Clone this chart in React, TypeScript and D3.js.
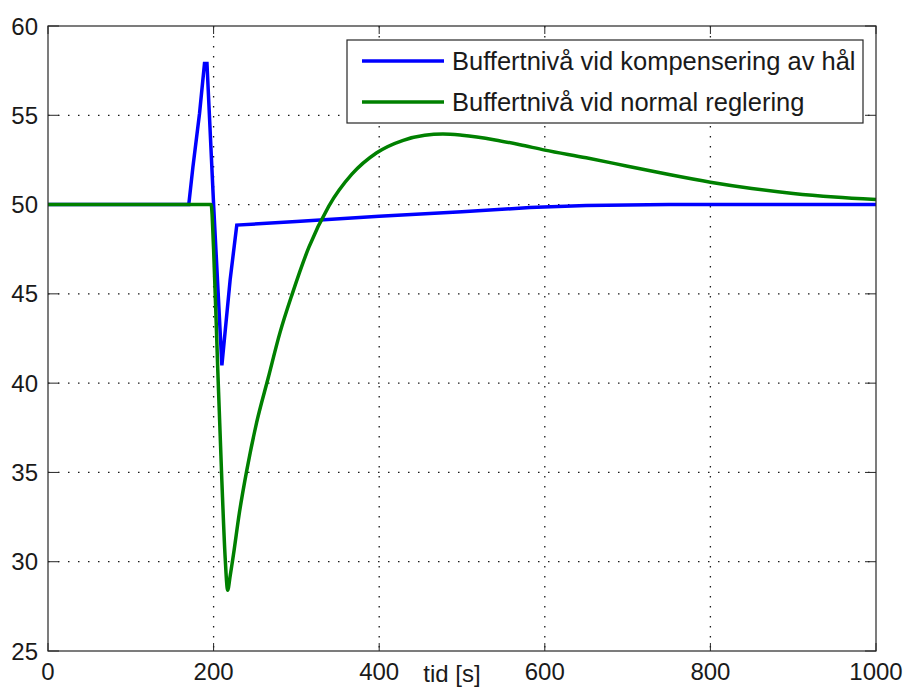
import React from "react";
import * as d3 from "d3";

const xTicks = [0, 200, 400, 600, 800, 1000];
const yTicks = [25, 30, 35, 40, 45, 50, 55, 60];

const seriesNames = [
  "Buffertnivå vid kompensering av hål",
  "Buffertnivå vid normal reglering",
];
const seriesColors = ["#0000ff", "#008000"];

// Blue: buffer level with hole compensation
const blueT = [0, 170, 175, 183, 189, 192, 200, 210, 220, 228, 300, 400, 500, 582, 650, 750, 1000];
const blueV = [50, 50, 52.1, 55.1, 57.9, 57.9, 50, 41, 45.8, 48.85, 49.05, 49.35, 49.6, 49.83, 49.95, 50, 50];

// Green: buffer level with normal regulation
const greenT = [0, 197, 200, 205, 210, 214, 217, 220, 224, 231, 240, 252, 266, 280, 295, 315, 339, 367, 397, 429, 455, 477, 500, 540, 570, 600, 650, 700, 750, 800, 850, 900, 950, 1000];
const greenV = [50, 50, 47.5, 40.8, 34.5, 30.2, 28.4, 29.2, 30.4, 32.7, 35.1, 37.8, 40.3, 42.8, 45, 47.6, 49.9, 51.7, 52.9, 53.6, 53.88, 53.95, 53.88, 53.62, 53.35, 53.05, 52.62, 52.15, 51.68, 51.25, 50.9, 50.62, 50.42, 50.28];

const xLabel = "tid [s]";

export default function App() {
  const W = 906, H = 693;
  const L = 48, R = 876, T = 26, B = 651;
  const x = d3.scaleLinear().domain([0, 1000]).range([L, R]);
  const y = d3.scaleLinear().domain([25, 60]).range([B, T]);
  const font = "'Liberation Sans', Arial, sans-serif";

  const blueData = blueT.map((t, i) => [t, blueV[i]] as [number, number]);
  const greenData = greenT.map((t, i) => [t, greenV[i]] as [number, number]);

  const blueLine = d3.line<[number, number]>().x(d => x(d[0])).y(d => y(d[1])).curve(d3.curveLinear);
  const greenLine = d3.line<[number, number]>().x(d => x(d[0])).y(d => y(d[1])).curve(d3.curveMonotoneX);

  const axisColor = "#262626";
  const grid = { stroke: "#1a1a1a", strokeWidth: 1.3, strokeDasharray: "1.5 8.5" };

  const lgX = 347, lgY = 40, lgW = 516, lgH = 83;
  const rows = [61, 102];

  return (
    <svg width={W} height={H} style={{ position: "absolute", left: 0, top: 0, background: "#fff" }}>
      <rect x={0} y={0} width={W} height={H} fill="#fff" />
      {xTicks.slice(1, -1).map(t => (
        <line key={"gx" + t} x1={x(t)} x2={x(t)} y1={T} y2={B} {...grid} />
      ))}
      {yTicks.slice(1, -1).map(t => (
        <line key={"gy" + t} x1={L} x2={R} y1={y(t)} y2={y(t)} {...grid} />
      ))}
      {xTicks.map(t => (
        <g key={"tx" + t}>
          <line x1={x(t)} x2={x(t)} y1={B} y2={B - 8} stroke={axisColor} strokeWidth={1} />
          <line x1={x(t)} x2={x(t)} y1={T} y2={T + 8} stroke={axisColor} strokeWidth={1} />
          <text x={x(t)} y={680} textAnchor="middle" fontFamily={font} fontSize={24} fill="#1a1a1a">{t}</text>
        </g>
      ))}
      {yTicks.map(t => (
        <g key={"ty" + t}>
          <line x1={L} x2={L + 11} y1={y(t)} y2={y(t)} stroke={axisColor} strokeWidth={1} />
          <line x1={R} x2={R - 11} y1={y(t)} y2={y(t)} stroke={axisColor} strokeWidth={1} />
          <text x={38} y={y(t) + 8.5} textAnchor="end" fontFamily={font} fontSize={24} fill="#1a1a1a">{t}</text>
        </g>
      ))}
      <path d={blueLine(blueData) || ""} fill="none" stroke={seriesColors[0]} strokeWidth={3.5} strokeLinejoin="miter" />
      <path d={greenLine(greenData) || ""} fill="none" stroke={seriesColors[1]} strokeWidth={3.5} strokeLinejoin="miter" />
      <rect x={L} y={T} width={R - L} height={B - T} fill="none" stroke={axisColor} strokeWidth={1.2} />
      <text x={452} y={682} textAnchor="middle" fontFamily={font} fontSize={24} fill="#1a1a1a">{xLabel}</text>
      <rect x={lgX} y={lgY} width={lgW} height={lgH} fill="#fff" stroke={axisColor} strokeWidth={1.2} />
      {seriesNames.map((n, i) => (
        <g key={n}>
          <line x1={362} x2={444} y1={rows[i]} y2={rows[i]} stroke={seriesColors[i]} strokeWidth={3.5} />
          <text x={452} y={rows[i] + 9} fontFamily={font} fontSize={25.5} fill="#1a1a1a">{n}</text>
        </g>
      ))}
    </svg>
  );
}
